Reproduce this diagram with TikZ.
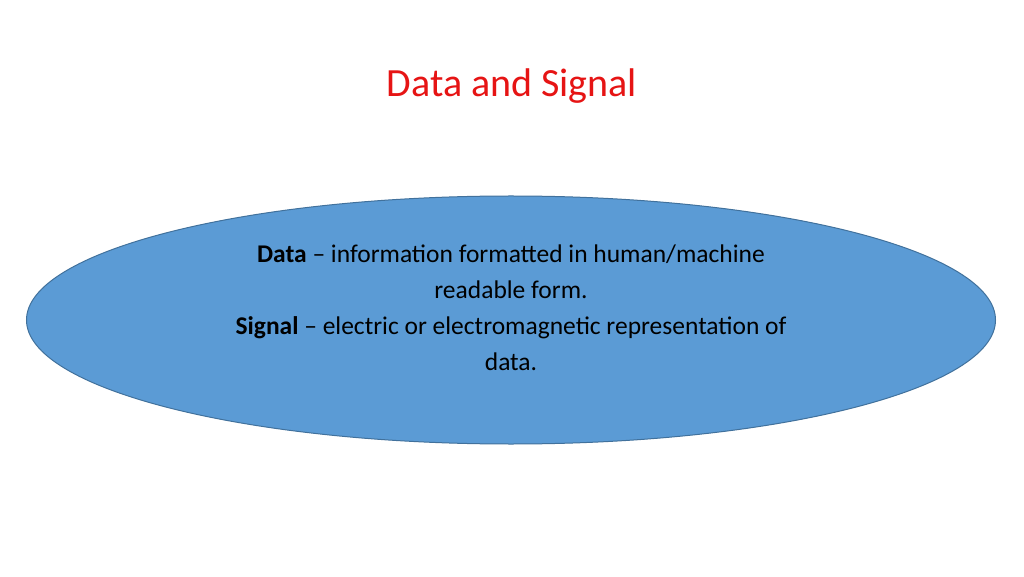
\documentclass[tikz,border=0pt]{standalone}
\usepackage{fontspec}
\setmainfont{Carlito}
\usetikzlibrary{shapes.geometric,positioning}
\definecolor{slidered}{RGB}{230,20,20}
\definecolor{ovalfill}{RGB}{91,155,213}
\definecolor{ovaldraw}{RGB}{65,113,156}
\tikzset{oval/.style={ellipse, fill=ovalfill, draw=ovaldraw, line width=1pt,
        minimum width=969pt, minimum height=248pt, inner sep=0pt}}
\begin{document}
\begin{tikzpicture}[x=1pt,y=1pt]
            \useasboundingbox (0,0) rectangle (1024,576);
            \node[slidered, font=\fontsize{40}{48}\selectfont] (title) at (512,490) {Data and Signal};
            \node[oval] (oval) at (511,256) {};
            \node[align=center, font=\fontsize{25.5}{36}\selectfont] (text) at (511,268)
                {\textbf{Data} -- information formatted in human/machine\\ readable form.\\
                 \textbf{Signal} -- electric or electromagnetic representation of\\ data.};
        \end{tikzpicture}
\end{document}
